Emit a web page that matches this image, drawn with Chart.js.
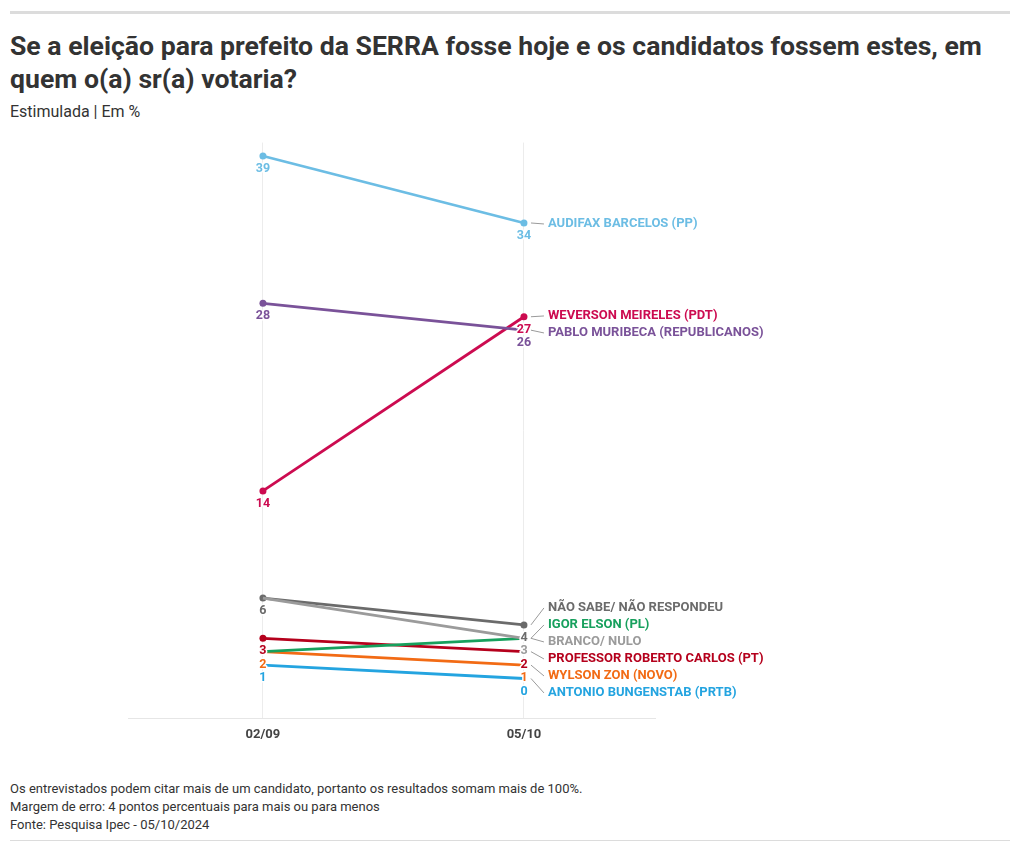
<!DOCTYPE html>
<html>
<head>
<meta charset="utf-8">
<script src="https://cdn.jsdelivr.net/npm/chart.js@4"></script>
<style>
  body { margin: 0; background: #fff; font-family: Roboto, "Noto Sans", sans-serif; color: #333; }
  #wrap { position: relative; width: 1020px; height: 852px; }
  .topbar { position: absolute; left: 10px; top: 11px; width: 1000px; height: 3px; background: #dcdcdc; }
  h1 { position: absolute; left: 10px; top: 29px; width: 1000px; margin: 0; font-size: 26.6px; line-height: 33px; font-weight: 700; color: #333; }
  .sub { position: absolute; left: 10px; top: 102px; font-size: 16px; color: #333; }
  .notes { position: absolute; left: 10px; top: 780px; font-size: 13px; line-height: 18px; color: #333; }
  .botline { position: absolute; left: 10px; top: 840px; width: 1000px; height: 1px; background: #dcdcdc; }
  #box { position: absolute; left: 0; top: 130px; width: 1020px; height: 630px; }
</style>
</head>
<body>
<div id="wrap">
  <div class="topbar"></div>
  <h1>Se a eleição para prefeito da SERRA fosse hoje e os candidatos fossem estes, em<br>quem o(a) sr(a) votaria?</h1>
  <div class="sub">Estimulada | Em %</div>
  <div id="box"><canvas id="myChart" width="1020" height="630"></canvas></div>
  <div class="notes">Os entrevistados podem citar mais de um candidato, portanto os resultados somam mais de 100%.<br>Margem de erro: 4 pontos percentuais para mais ou para menos<br>Fonte: Pesquisa Ipec - 05/10/2024</div>
  <div class="botline"></div>
</div>
<script>
// dates of the two surveys
const dates = ['02/09', '05/10'];

// candidates (drawing order: first ones are drawn below)
const names = [
  'BRANCO/ NULO',
  'IGOR ELSON (PL)',
  'WYLSON ZON (NOVO)',
  'ANTONIO BUNGENSTAB (PRTB)',
  'PROFESSOR ROBERTO CARLOS (PT)',
  'NÃO SABE/ NÃO RESPONDEU',
  'PABLO MURIBECA (REPUBLICANOS)',
  'WEVERSON MEIRELES (PDT)',
  'AUDIFAX BARCELOS (PP)'
];
const firstRound = [6, 2, 2, 1, 3, 6, 28, 14, 39];
const secondRound = [3, 3, 1, 0, 2, 4, 26, 27, 34];

const colors = ['#9b9b9b', '#17a05d', '#f26b15', '#24a4e0', '#b5001c', '#6b6b6b', '#7a5299', '#cc0b50', '#6cbde4'];
// which ends get a dot / a value label (labels hidden where they collide)
const dots = [[0, 0], [0, 0], [0, 0], [0, 0], [3.5, 0], [3.5, 3.5], [3.5, 0], [3.5, 3.5], [3.5, 3.5]];
const showValue = [[0, 1], [0, 0], [1, 1], [1, 1], [1, 1], [1, 1], [1, 1], [1, 1], [1, 1]];

const FONT = 'Roboto, "Noto Sans", sans-serif';
Chart.defaults.font.family = FONT;

const datasets = names.map((name, i) => ({
  label: name,
  data: [firstRound[i], secondRound[i]].map((v, j) => ({ x: j, y: v })),
  borderColor: colors[i],
  backgroundColor: colors[i],
  borderWidth: 2.8,
  pointRadius: dots[i],
  pointHoverRadius: dots[i],
  pointBorderWidth: 0,
  clip: false
}));

const labelPlugin = {
  id: 'slopeLabels',
  afterDatasetsDraw(chart) {
    const ctx = chart.ctx;
    ctx.save();
    ctx.font = 'bold 12.5px ' + FONT;
    ctx.textAlign = 'center';
    ctx.textBaseline = 'middle';
    ctx.lineJoin = 'round';
    // value labels under each point
    chart.data.datasets.forEach((ds, i) => {
      const meta = chart.getDatasetMeta(i);
      meta.data.forEach((pt, j) => {
        if (!showValue[i][j]) return;
        const txt = String(ds.data[j].y);
        ctx.strokeStyle = '#fff';
        ctx.lineWidth = 3;
        ctx.strokeText(txt, pt.x, pt.y + 13);
        ctx.fillStyle = colors[i];
        ctx.fillText(txt, pt.x, pt.y + 13);
      });
    });

    // end labels, spread apart so they do not overlap
    const gap = 17;
    let items = chart.data.datasets.map((ds, i) => {
      const pt = chart.getDatasetMeta(i).data[1];
      return { i, x: pt.x, y: pt.y, v: ds.data[1].y };
    });
    items.sort((a, b) => a.y - b.y || b.i - a.i);
    let groups = items.map(it => ({ list: [it], c: it.y }));
    let moved = true;
    while (moved) {
      moved = false;
      for (let k = 0; k < groups.length - 1; k++) {
        const a = groups[k], b = groups[k + 1];
        const aBottom = a.c + (a.list.length - 1) / 2 * gap;
        const bTop = b.c - (b.list.length - 1) / 2 * gap;
        if (bTop - aBottom < gap) {
          const list = a.list.concat(b.list);
          const mean = list.reduce((s, it) => s + it.y, 0) / list.length;
          groups.splice(k, 2, { list, c: mean });
          moved = true;
          break;
        }
      }
    }
    ctx.textAlign = 'left';
    ctx.font = 'bold 13px ' + FONT;
    groups.forEach(g => {
      g.list.forEach((it, n) => {
        const ly = g.c - (g.list.length - 1) / 2 * gap + n * gap + 1;
        ctx.strokeStyle = '#9a9a9a';
        ctx.lineWidth = 1;
        ctx.beginPath();
        ctx.moveTo(it.x + 7, it.y);
        ctx.lineTo(it.x + 20, ly);
        ctx.stroke();
        ctx.fillStyle = colors[it.i];
        ctx.fillText(names[it.i], it.x + 24, ly);
      });
    });
    ctx.restore();
  }
};

const ctx = document.getElementById('myChart').getContext('2d');
new Chart(ctx, {
  type: 'line',
  data: { datasets },
  options: {
    responsive: false,
    animation: false,
    events: [],
    layout: { padding: { left: 128, right: 365, top: 12.6, bottom: 2 } },
    plugins: { legend: { display: false }, tooltip: { enabled: false } },
    scales: {
      x: {
        type: 'linear',
        min: -0.517,
        max: 1.502,
        afterBuildTicks: (scale) => { scale.ticks = dates.map((d, k) => ({ value: k })); },
        afterFit: (scale) => { scale.height = 40; },
        grid: { color: '#ececec', drawTicks: false },
        border: { color: '#e6e6e6' },
        ticks: {
          padding: 9,
          color: '#444',
          font: { size: 13, weight: 'bold' },
          callback: (v) => dates[v]
        }
      },
      y: { display: false, min: -2.95, max: 40 }
    }
  },
  plugins: [labelPlugin]
});
</script>
</body>
</html>
